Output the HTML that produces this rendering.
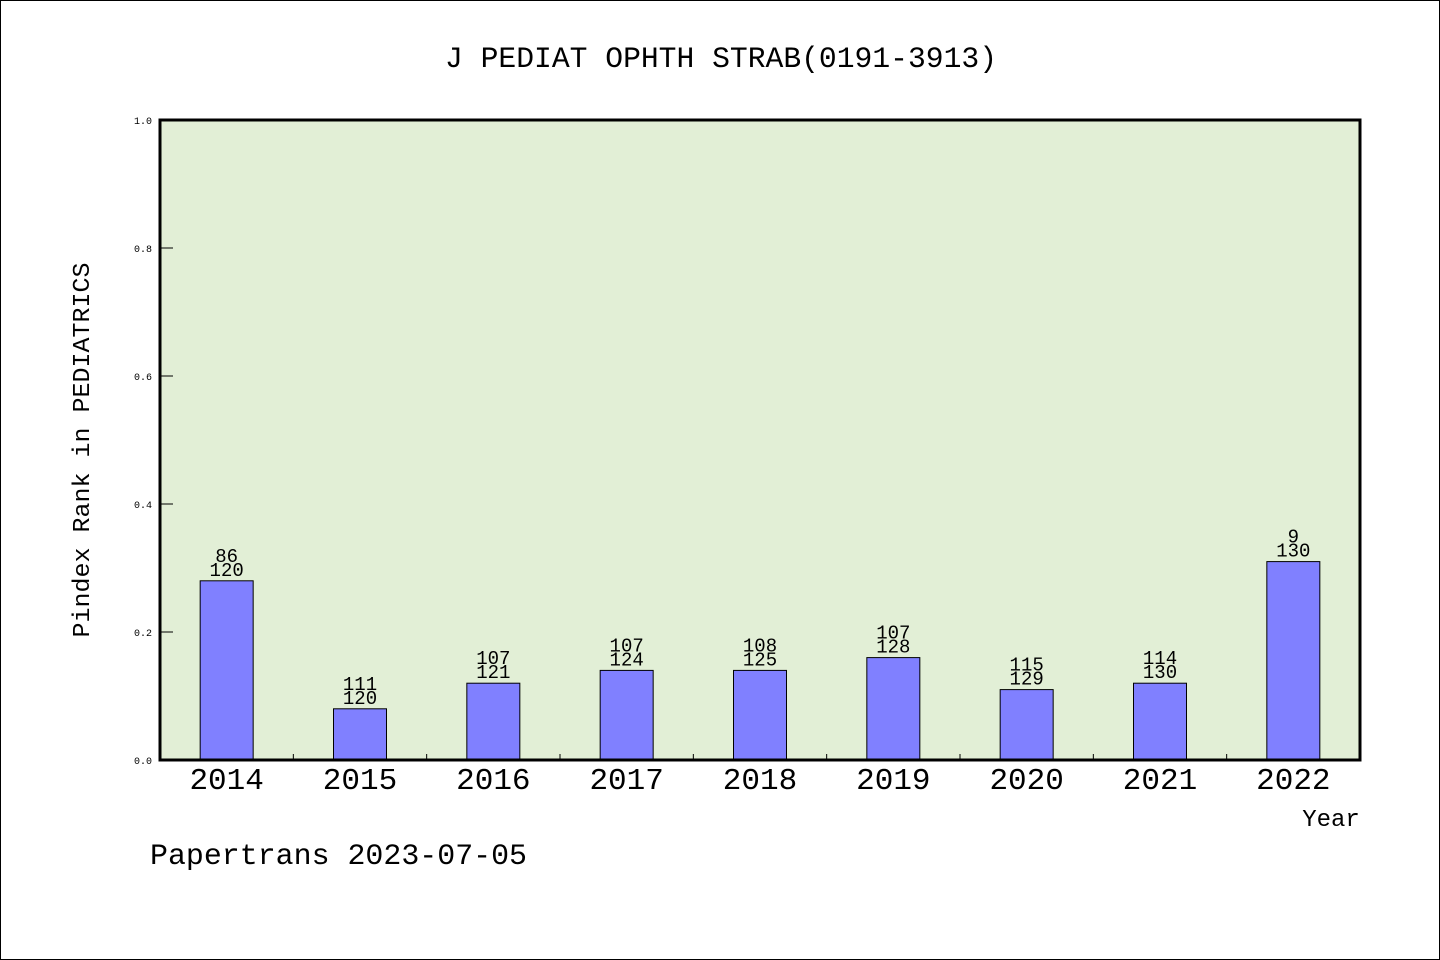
<!DOCTYPE html>
<html><head><meta charset="utf-8"><style>
html,body{margin:0;padding:0;background:#fff}
svg{display:block}
text{font-family:"Liberation Mono","WenQuanYi Zen Hei",monospace;fill:#000}
</style></head><body>
<svg width="1440" height="960" xmlns="http://www.w3.org/2000/svg">
<rect x="0.5" y="0.5" width="1439" height="959" fill="#fff" stroke="#000"/>
<text x="721" y="67" font-size="30" text-anchor="middle" textLength="552" lengthAdjust="spacingAndGlyphs">J PEDIAT OPHTH STRAB(0191-3913)</text>
<rect x="160" y="120" width="1200" height="640" fill="#e2efd6"/>
<g id="yticks"></g>
<g id="bars"></g>
<rect x="160" y="120" width="1200" height="640" fill="none" stroke="#000" stroke-width="3"/>
<text x="1331" y="826" font-size="24" text-anchor="middle">Year</text>
<text transform="translate(89,450) rotate(-90)" font-size="24" text-anchor="middle" textLength="375" lengthAdjust="spacingAndGlyphs">Pindex Rank in PEDIATRICS</text>
<text x="150" y="864" font-size="30" textLength="377" lengthAdjust="spacingAndGlyphs">Papertrans 2023-07-05</text>
</svg>
<script>
const years=["2014","2015","2016","2017","2018","2019","2020","2021","2022"];
const values=[0.28,0.08,0.12,0.14,0.14,0.16,0.11,0.12,0.31];
const topLabels=["86","111","107","107","108","107","115","114","9"];
const bottomLabels=["120","120","121","124","125","128","129","130","130"];
const yTicks=[0,0.2,0.4,0.6,0.8,1.0];
const NS="http://www.w3.org/2000/svg";
const X0=160,W=1200,Y0=760,H=640;
const y=v=>Y0-v*H;
const band=W/years.length;
const x=i=>X0+band*(i+0.5);
function mk(tag,attrs,parent){const e=document.createElementNS(NS,tag);for(const k in attrs)e.setAttribute(k,attrs[k]);parent.appendChild(e);return e;}
const yt=document.getElementById('yticks');
yTicks.forEach(t=>{
  const l=mk('line',{x1:X0,x2:X0+13,y1:y(t),y2:y(t),stroke:'#000'},yt);
  
  
  const tx=mk('text',{x:152,y:y(t)+4,'font-size':10,'text-anchor':'end'},yt);
  tx.textContent=t.toFixed(1);
  
  
});
const bg=document.getElementById('bars');
for(let i=1;i<years.length;i++){
  const l=mk('line',{x1:X0+band*i,x2:X0+band*i,y1:Y0,y2:Y0-6,stroke:'#000'},bg);
  
  
}
years.forEach((yr,i)=>{
  const bw=53;
  const r=mk('rect',{x:x(i)-bw/2,y:y(values[i]),width:bw,height:Y0-y(values[i]),fill:'#8080ff',stroke:'#000','stroke-width':1},bg);
  
  
  const t1=mk('text',{x:x(i),y:y(values[i])-19,'font-size':19,'text-anchor':'middle'},bg);
  t1.textContent=topLabels[i];
  
  
  const t2=mk('text',{x:x(i),y:y(values[i])-5,'font-size':19,'text-anchor':'middle'},bg);
  t2.textContent=bottomLabels[i];
  
  
  const xl=mk('text',{x:x(i),y:789,'font-size':31,'text-anchor':'middle'},bg);
  xl.textContent=yr;
  
  
});
</script>
</body></html>
